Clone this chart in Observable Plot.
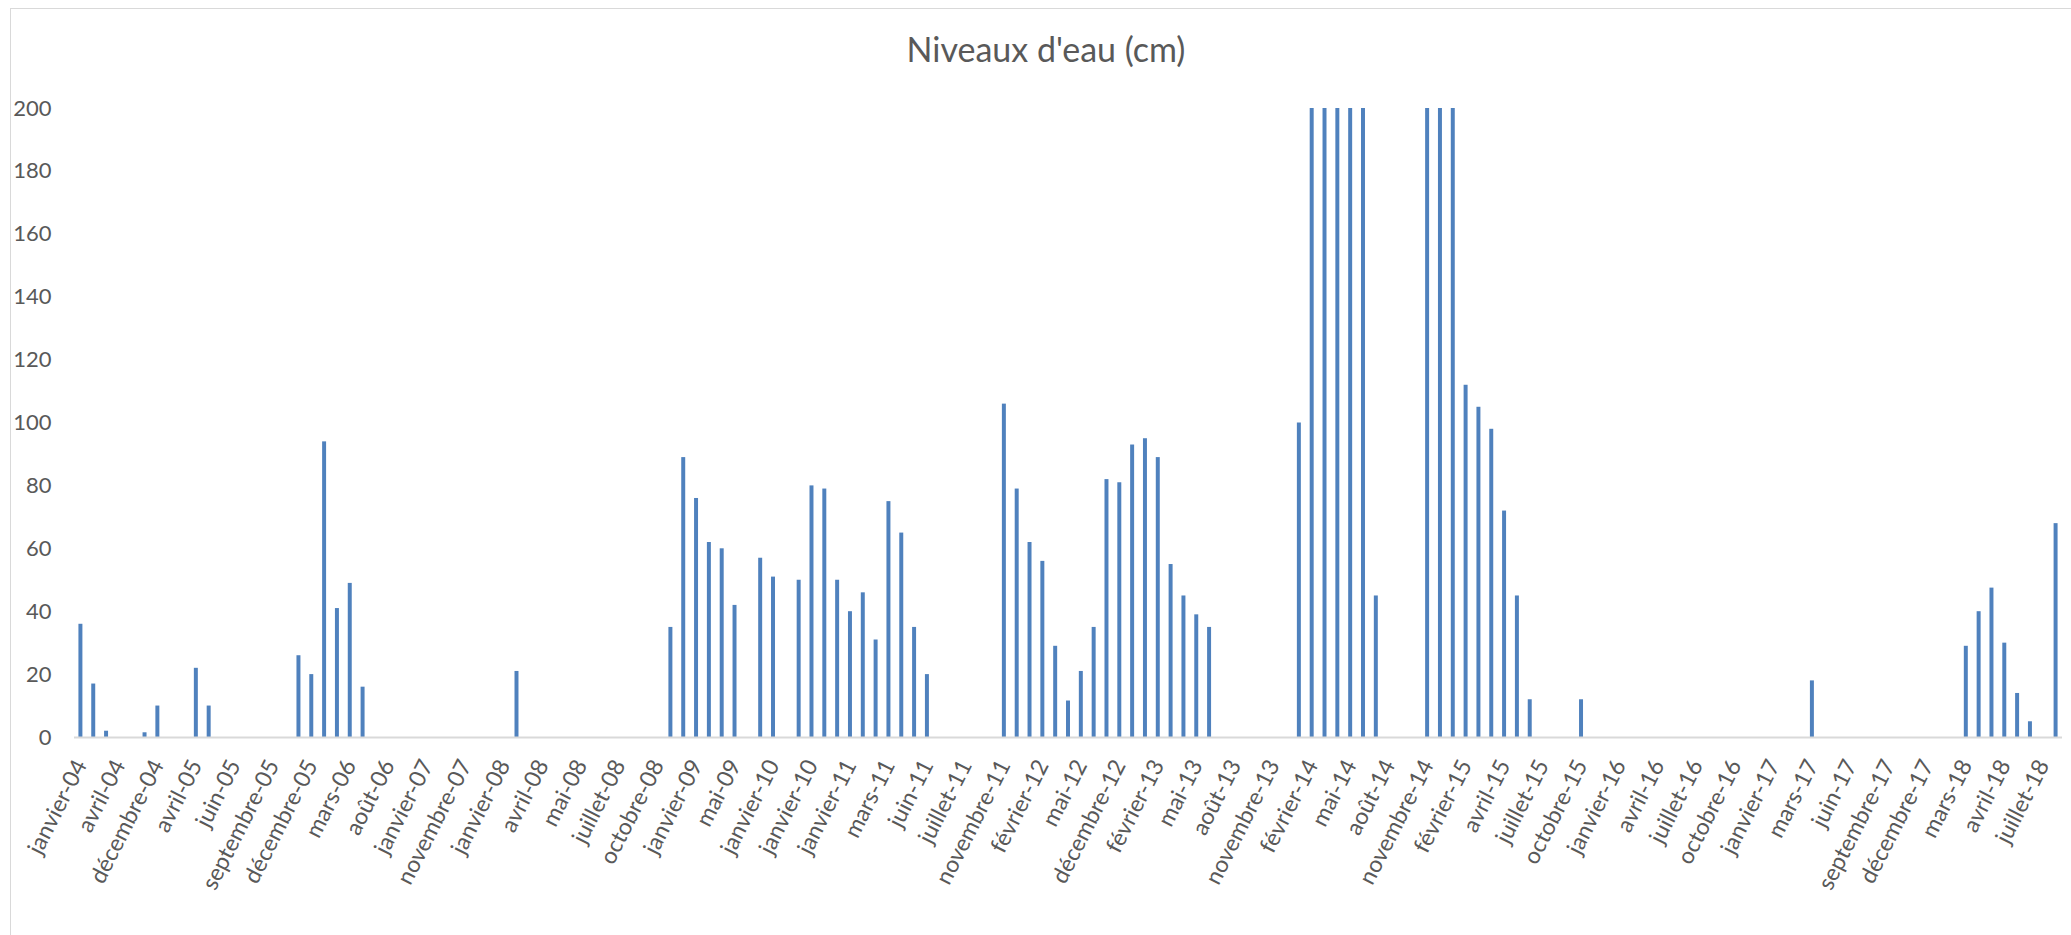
<!DOCTYPE html>
<html>
<head>
<meta charset="utf-8">
<script src="https://cdn.jsdelivr.net/npm/d3@7"></script>
<script src="https://cdn.jsdelivr.net/npm/@observablehq/plot@0.6"></script>
<style>
  html, body { margin: 0; padding: 0; background: #fff; }
  #wrap { position: relative; width: 2071px; height: 935px; overflow: hidden; }
  #frameTop { position: absolute; left: 10px; top: 8px; width: 2100px; height: 0; border-top: 1.5px solid #d9d9d9; }
  #frameLeft { position: absolute; left: 10px; top: 8px; width: 0; height: 1000px; border-left: 1.5px solid #d9d9d9; }
  #title { height: 90px; box-sizing: border-box; padding-top: 32px; padding-left: 21px; text-align: center;
           font-family: Lato, sans-serif; font-size: 34px; line-height: 34px; color: #595959; }
  #chart svg { display: block; }
</style>
</head>
<body>
<div id="wrap">
  <div id="frameTop"></div>
  <div id="frameLeft"></div>
  <div id="title">Niveaux d'eau (cm)</div>
  <div id="chart"></div>
</div>
<script>
// Visible category labels (Excel shows one label every 3 categories)
const tickLabels = [
  "janvier-04","avril-04","décembre-04","avril-05","juin-05","septembre-05","décembre-05","mars-06",
  "août-06","janvier-07","novembre-07","janvier-08","avril-08","mai-08","juillet-08","octobre-08",
  "janvier-09","mai-09","janvier-10","janvier-10","janvier-11","mars-11","juin-11","juillet-11",
  "novembre-11","février-12","mai-12","décembre-12","février-13","mai-13","août-13","novembre-13",
  "février-14","mai-14","août-14","novembre-14","février-15","avril-15","juillet-15","octobre-15",
  "janvier-16","avril-16","juillet-16","octobre-16","janvier-17","mars-17","juin-17","septembre-17",
  "décembre-17","mars-18","avril-18","juillet-18"
];
const labelEvery = 3;

// Water level (cm) for each of the 155 measurement categories (null = no bar)
const levels = [
  36, 17, 2, null, null, 1.5, 10, null, null, 22,
  10, null, null, null, null, null, null, 26, 20, 94,
  41, 49, 16, null, null, null, null, null, null, null,
  null, null, null, null, 21, null, null, null, null, null,
  null, null, null, null, null, null, 35, 89, 76, 62,
  60, 42, null, 57, 51, null, 50, 80, 79, 50,
  40, 46, 31, 75, 65, 35, 20, null, null, null,
  null, null, 106, 79, 62, 56, 29, 11.6, 21, 35,
  82, 81, 93, 95, 89, 55, 45, 39, 35, null,
  null, null, null, null, null, 100, 200, 200, 200, 200,
  200, 45, null, null, null, 200, 200, 200, 112, 105,
  98, 72, 45, 12, null, null, null, 12, null, null,
  null, null, null, null, null, null, null, null, null, null,
  null, null, null, null, null, 18, null, null, null, null,
  null, null, null, null, null, null, null, 29, 40, 47.5,
  30, 14, 5, null, 68
];

const yTicks = [0, 20, 40, 60, 80, 100, 120, 140, 160, 180, 200];

const categories = d3.range(levels.length);
const table = categories.map(i => ({i, level: levels[i]})).filter(d => d.level != null);
const tickPositions = tickLabels.map((_, k) => k * labelEvery);

const chart = Plot.plot({
  width: 2071,
  height: 845,
  marginLeft: 74,
  marginRight: 9,
  marginTop: 18,
  marginBottom: 198,
  style: {fontFamily: "Lato, sans-serif", fontSize: "22px", color: "#595959", background: "transparent"},
  x: {type: "band", domain: categories, paddingInner: 0.69, paddingOuter: 0.345},
  y: {domain: [0, 200]},
  marks: [
    Plot.barY(table, {x: "i", y: "level", fill: "#4f81bd"}),
    Plot.ruleY([0], {stroke: "#d9d9d9", strokeWidth: 2}),
    Plot.axisY({ticks: yTicks, tickSize: 0, tickPadding: 23, fill: "#595959", label: null}),
    Plot.axisX({
      ticks: tickPositions,
      tickFormat: i => tickLabels[i / labelEvery],
      tickRotate: -63,
      tickSize: 0,
      tickPadding: 24,
      fontSize: 23,
      fill: "#595959",
      label: null
    })
  ]
});
document.getElementById("chart").appendChild(chart);
</script>
</body>
</html>
